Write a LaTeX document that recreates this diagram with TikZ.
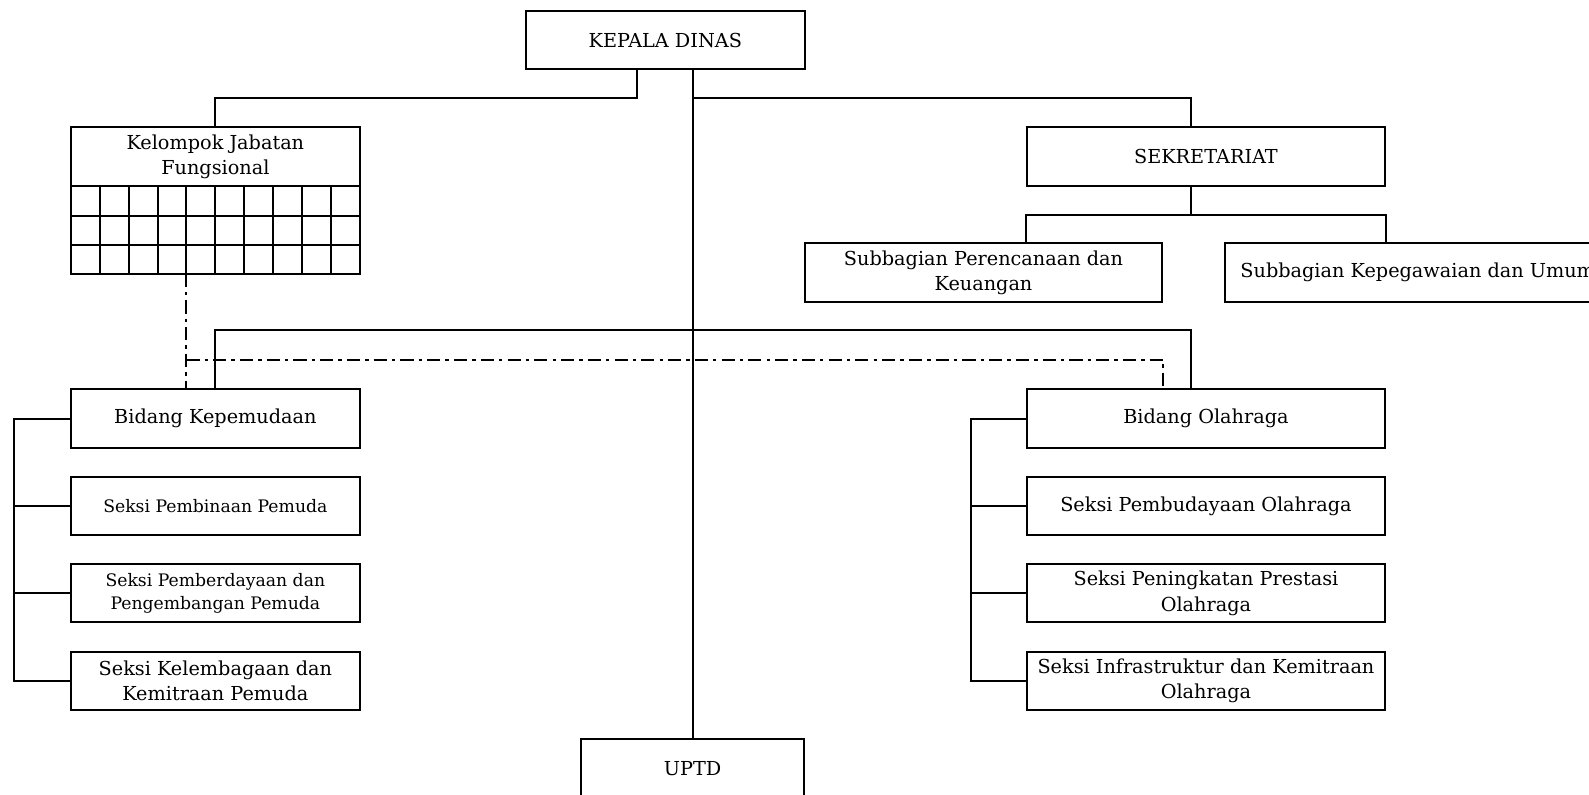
\documentclass[tikz,border=0pt]{standalone}
\usepackage{fontspec}
\setmainfont{DejaVu Serif}
\usetikzlibrary{calc}
\begin{document}
\begin{tikzpicture}[x=0.5pt,y=-0.5pt,
  box/.style={draw,line width=1pt,rectangle,inner sep=1pt,align=center,font=\fontsize{9.5}{12.5}\selectfont},
  small/.style={font=\fontsize{8.5}{11.5}\selectfont},
  ln/.style={line width=1pt},
  dd/.style={line width=1pt,dash pattern=on 6.5pt off 2.5pt on 1.7pt off 2.5pt}]
\useasboundingbox (0,0) rectangle (1568,784);
\clip (0,0) rectangle (1568,784);
% top
\node[box,minimum width=137.5pt,minimum height=28.5pt] (kd) at (656.5,39.5) {KEPALA DINAS};
\node[box,minimum width=142.5pt,minimum height=29.5pt] (kjf) at (212.5,154.5) {Kelompok Jabatan\\Fungsional};
\foreach \i in {1,...,9} \draw[ln] ({70+28.5*\i},184) -- ({70+28.5*\i},270);
\foreach \y in {212.67,241.33} \draw[ln] (70,\y) -- (355,\y);
\draw[line width=1pt] (70,184) rectangle (355,270);
\node[box,minimum width=177pt,minimum height=29.5pt] (sek) at (1190,154.5) {SEKRETARIAT};
\node[box,minimum width=176.5pt,minimum height=29pt] (sp) at (970.5,269) {Subbagian Perencanaan dan\\Keuangan};
\node[box,minimum width=192pt,minimum height=29pt] (sk) at (1401,269) {\hspace*{-2pt}Subbagian Kepegawaian dan Umum};
% bidang
\node[box,minimum width=142.5pt,minimum height=29pt] (bk) at (212.5,413) {Bidang Kepemudaan};
\node[box,small,minimum width=142.5pt,minimum height=28.5pt] (s1) at (212.5,499.5) {Seksi Pembinaan Pemuda};
\node[box,small,minimum width=142.5pt,minimum height=28.5pt] (s2) at (212.5,585.5) {Seksi Pemberdayaan dan\\Pengembangan Pemuda};
\node[box,minimum width=142.5pt,minimum height=29pt] (s3) at (212.5,672) {Seksi Kelembagaan dan\\Kemitraan Pemuda};
\node[box,minimum width=177pt,minimum height=29pt] (bo) at (1190,413) {Bidang Olahraga};
\node[box,minimum width=177pt,minimum height=28.5pt] (o1) at (1190,499.5) {Seksi Pembudayaan Olahraga};
\node[box,minimum width=177pt,minimum height=28.5pt] (o2) at (1190,585.5) {Seksi Peningkatan Prestasi\\Olahraga};
\node[box,minimum width=177pt,minimum height=29pt] (o3) at (1190,672) {Seksi Infrastruktur dan Kemitraan\\Olahraga};
\node[box,minimum width=110pt,minimum height=29pt] (uptd) at (683.5,758) {UPTD};
% coordinates
\coordinate (kdL) at ($(kd.south west)!0.4!(kd.south east)$);
\coordinate (sekIn) at ($(sek.north west)!0.458!(sek.north east)$);
\coordinate (sekOut) at ($(sek.south west)!0.458!(sek.south east)$);
\coordinate (boIn) at ($(bo.north west)!0.458!(bo.north east)$);
\coordinate (skIn) at (sk.north -| sek.east);
\coordinate (jr) at (97,97);
\coordinate (sr) at (212,212);
\coordinate (br) at (326,326);
\coordinate (dl) at (355,355);
\coordinate (gridB) at (184,270);
% connectors
\draw[ln] (kdL) -- (kdL |- jr) -| (kjf.north);
\draw[ln] (kd.south -| uptd.north) -- (uptd.north);
\draw[ln] (uptd.north |- jr) -| (sekIn);
\draw[ln] (sekOut) -- (sekOut |- sr);
\draw[ln] (sp.north -| sek.west) |- (skIn |- sr) -- (skIn);
\draw[ln] (bk.north) -- (bk.north |- br) -| (boIn);
\draw[dd] (gridB) -- (bk.north -| gridB);
\draw[dd] (gridB |- dl) -| (sp.east |- bo.north);
\draw[ln] (bk.west) -- ++(-55,0) |- (s3.west);
\draw[ln] (s1.west) -- ++(-55,0);
\draw[ln] (s2.west) -- ++(-55,0);
\draw[ln] (bo.west) -- ++(-54,0) |- (o3.west);
\draw[ln] (o1.west) -- ++(-54,0);
\draw[ln] (o2.west) -- ++(-54,0);
\end{tikzpicture}
\end{document}
